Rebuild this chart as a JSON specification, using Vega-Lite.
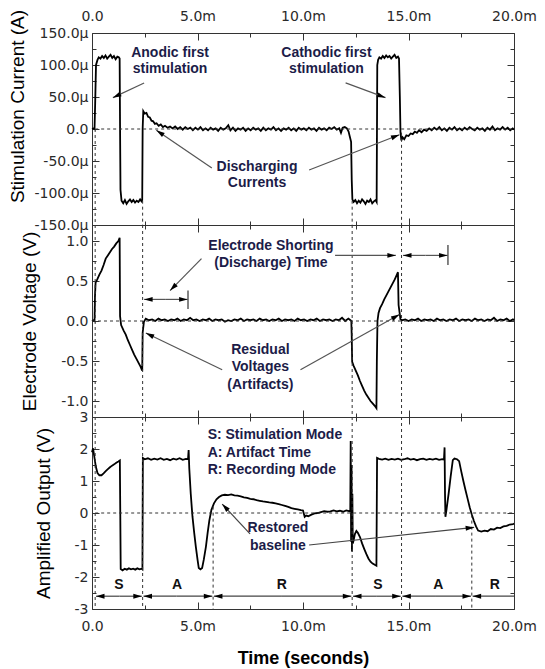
{
  "$schema": "https://vega.github.io/schema/vega-lite/v6.json",
  "background": "white",
  "padding": {"left": 7, "top": 5, "right": 5, "bottom": 5},
  "bounds": "flush",
  "spacing": 0,
  "config": {
    "view": {"stroke": "#333", "strokeWidth": 1},
    "axis": {"domain": false, "grid": false, "tickColor": "#333", "tickWidth": 1, "labelFont": "DejaVu Sans", "labelFontSize": 14, "labelColor": "#2a2a2a", "labelFlush": false, "labelOverlap": false, "titleFont": "Liberation Sans", "titleFontSize": 19, "titleFontWeight": "normal", "titleColor": "#000"},
    "text": {"font": "Liberation Sans", "fontWeight": "bold", "fontSize": 14, "color": "#1c1c48"}
  },
  "datasets": {
    "cur": [
      {"t":0.00,"i":0},{"t":0.08,"i":1},{"t":0.12,"i":0},{"t":0.15,"i":40},{"t":0.19,"i":100},{"t":0.26,"i":108},{"t":0.32,"i":112},{"t":0.40,"i":110},{"t":0.48,"i":114},{"t":0.56,"i":111},{"t":0.64,"i":115},{"t":0.72,"i":110},{"t":0.80,"i":113},{"t":0.88,"i":116},{"t":0.96,"i":111},{"t":1.04,"i":114},{"t":1.12,"i":109},{"t":1.20,"i":113},{"t":1.27,"i":112},{"t":1.31,"i":110},{"t":1.33,"i":0},{"t":1.35,"i":-95},{"t":1.40,"i":-112},{"t":1.48,"i":-116},{"t":1.56,"i":-111},{"t":1.64,"i":-117},{"t":1.72,"i":-113},{"t":1.80,"i":-110},{"t":1.88,"i":-114},{"t":1.96,"i":-111},{"t":2.04,"i":-115},{"t":2.12,"i":-112},{"t":2.20,"i":-114},{"t":2.28,"i":-110},{"t":2.35,"i":-113},{"t":2.38,"i":-111},{"t":2.40,"i":0},{"t":2.43,"i":28},{"t":2.50,"i":24},{"t":2.58,"i":25},{"t":2.66,"i":19},{"t":2.74,"i":18},{"t":2.82,"i":13},{"t":2.90,"i":12},{"t":2.98,"i":8},{"t":3.06,"i":9},{"t":3.16,"i":5},{"t":3.26,"i":7},{"t":3.36,"i":3},{"t":3.46,"i":5},{"t":3.58,"i":2},{"t":3.70,"i":4},{"t":3.82,"i":1},{"t":3.94,"i":4},{"t":4.06,"i":0},{"t":4.18,"i":3},{"t":4.30,"i":-1},{"t":4.42,"i":3},{"t":4.54,"i":0},{"t":4.66,"i":2},{"t":4.78,"i":-2},{"t":4.90,"i":2},{"t":5.02,"i":-1},{"t":5.14,"i":3},{"t":5.26,"i":-2},{"t":5.38,"i":1},{"t":5.50,"i":-2},{"t":5.62,"i":2},{"t":5.74,"i":-1},{"t":5.86,"i":1},{"t":5.98,"i":-3},{"t":6.10,"i":2},{"t":6.22,"i":-1},{"t":6.34,"i":1},{"t":6.46,"i":6},{"t":6.56,"i":-2},{"t":6.68,"i":2},{"t":6.80,"i":-3},{"t":6.92,"i":1},{"t":7.04,"i":-1},{"t":7.16,"i":2},{"t":7.28,"i":-3},{"t":7.40,"i":1},{"t":7.52,"i":-2},{"t":7.64,"i":2},{"t":7.76,"i":-1},{"t":7.88,"i":1},{"t":8.00,"i":-3},{"t":8.12,"i":2},{"t":8.24,"i":-2},{"t":8.36,"i":1},{"t":8.48,"i":-1},{"t":8.60,"i":3},{"t":8.72,"i":-2},{"t":8.84,"i":1},{"t":8.96,"i":-3},{"t":9.08,"i":1},{"t":9.20,"i":-1},{"t":9.32,"i":2},{"t":9.44,"i":-2},{"t":9.56,"i":1},{"t":9.68,"i":-3},{"t":9.80,"i":2},{"t":9.92,"i":-1},{"t":10.04,"i":1},{"t":10.16,"i":-2},{"t":10.28,"i":2},{"t":10.40,"i":-1},{"t":10.52,"i":1},{"t":10.64,"i":-3},{"t":10.76,"i":2},{"t":10.88,"i":-1},{"t":11.00,"i":1},{"t":11.12,"i":-2},{"t":11.24,"i":2},{"t":11.36,"i":0},{"t":11.48,"i":3},{"t":11.60,"i":-1},{"t":11.72,"i":1},{"t":11.80,"i":-6},{"t":11.88,"i":2},{"t":11.98,"i":3},{"t":12.08,"i":1},{"t":12.16,"i":-4},{"t":12.22,"i":-12},{"t":12.28,"i":-20},{"t":12.31,"i":-80},{"t":12.34,"i":-110},{"t":12.40,"i":-114},{"t":12.48,"i":-111},{"t":12.56,"i":-116},{"t":12.64,"i":-112},{"t":12.72,"i":-115},{"t":12.80,"i":-110},{"t":12.88,"i":-113},{"t":12.96,"i":-117},{"t":13.04,"i":-112},{"t":13.12,"i":-114},{"t":13.20,"i":-110},{"t":13.28,"i":-116},{"t":13.36,"i":-113},{"t":13.44,"i":-111},{"t":13.49,"i":-114},{"t":13.52,"i":100},{"t":13.56,"i":108},{"t":13.62,"i":112},{"t":13.70,"i":110},{"t":13.78,"i":114},{"t":13.86,"i":111},{"t":13.94,"i":115},{"t":14.02,"i":112},{"t":14.10,"i":114},{"t":14.18,"i":110},{"t":14.26,"i":113},{"t":14.34,"i":116},{"t":14.42,"i":111},{"t":14.50,"i":113},{"t":14.55,"i":110},{"t":14.59,"i":50},{"t":14.62,"i":-5},{"t":14.66,"i":-18},{"t":14.72,"i":-13},{"t":14.80,"i":-16},{"t":14.90,"i":-10},{"t":15.00,"i":-11},{"t":15.10,"i":-7},{"t":15.20,"i":-8},{"t":15.30,"i":-4},{"t":15.40,"i":-6},{"t":15.50,"i":-2},{"t":15.62,"i":-5},{"t":15.74,"i":-1},{"t":15.86,"i":-3},{"t":15.98,"i":1},{"t":16.10,"i":-2},{"t":16.22,"i":2},{"t":16.34,"i":-1},{"t":16.46,"i":3},{"t":16.58,"i":-2},{"t":16.70,"i":1},{"t":16.82,"i":-3},{"t":16.94,"i":2},{"t":17.06,"i":-1},{"t":17.18,"i":3},{"t":17.30,"i":-2},{"t":17.42,"i":1},{"t":17.54,"i":-2},{"t":17.66,"i":2},{"t":17.78,"i":-1},{"t":17.90,"i":3},{"t":18.02,"i":0},{"t":18.14,"i":-2},{"t":18.26,"i":2},{"t":18.38,"i":-1},{"t":18.50,"i":1},{"t":18.62,"i":-3},{"t":18.74,"i":2},{"t":18.86,"i":-1},{"t":18.98,"i":4},{"t":19.10,"i":-2},{"t":19.22,"i":1},{"t":19.34,"i":-1},{"t":19.46,"i":3},{"t":19.58,"i":-1},{"t":19.70,"i":2},{"t":19.82,"i":-2},{"t":19.94,"i":1},{"t":20.00,"i":-1}
    ],
    "volt": [
      {"t":0.00,"v":0.0},{"t":0.07,"v":0.01},{"t":0.12,"v":0.0},{"t":0.14,"v":0.3},{"t":0.17,"v":0.48},{"t":0.25,"v":0.52},{"t":0.35,"v":0.58},{"t":0.45,"v":0.63},{"t":0.55,"v":0.70},{"t":0.65,"v":0.78},{"t":0.75,"v":0.82},{"t":0.85,"v":0.86},{"t":0.95,"v":0.90},{"t":1.05,"v":0.93},{"t":1.15,"v":0.97},{"t":1.25,"v":1.00},{"t":1.31,"v":1.04},{"t":1.33,"v":0.06},{"t":1.38,"v":-0.05},{"t":1.50,"v":-0.12},{"t":1.60,"v":-0.17},{"t":1.70,"v":-0.24},{"t":1.80,"v":-0.30},{"t":1.90,"v":-0.36},{"t":2.00,"v":-0.42},{"t":2.10,"v":-0.47},{"t":2.20,"v":-0.52},{"t":2.30,"v":-0.57},{"t":2.38,"v":-0.62},{"t":2.40,"v":-0.15},{"t":2.43,"v":-0.08},{"t":2.46,"v":-0.01},
      {"t":2.55,"v":0.03},{"t":2.70,"v":0.01},{"t":2.85,"v":0.02},{"t":3.00,"v":0.0},{"t":3.15,"v":0.03},{"t":3.30,"v":0.01},{"t":3.45,"v":0.02},{"t":3.60,"v":0.0},{"t":3.75,"v":0.02},{"t":3.90,"v":0.01},{"t":4.05,"v":0.03},{"t":4.20,"v":0.0},{"t":4.35,"v":0.02},{"t":4.50,"v":0.01},{"t":4.65,"v":0.04},{"t":4.80,"v":0.01},{"t":4.95,"v":0.02},{"t":5.10,"v":0.0},{"t":5.25,"v":0.02},{"t":5.40,"v":0.01},{"t":5.55,"v":0.03},{"t":5.70,"v":0.0},{"t":5.85,"v":0.02},{"t":6.00,"v":0.01},{"t":6.15,"v":0.02},{"t":6.30,"v":-0.01},{"t":6.45,"v":0.01},{"t":6.60,"v":0.0},{"t":6.75,"v":0.02},{"t":6.90,"v":0.01},{"t":7.05,"v":0.03},{"t":7.20,"v":0.0},{"t":7.35,"v":0.02},{"t":7.50,"v":0.01},{"t":7.65,"v":0.02},{"t":7.80,"v":0.0},{"t":7.95,"v":0.03},{"t":8.10,"v":0.01},{"t":8.25,"v":0.02},{"t":8.40,"v":0.0},{"t":8.55,"v":0.02},{"t":8.70,"v":0.01},{"t":8.85,"v":0.03},{"t":9.00,"v":0.0},{"t":9.15,"v":0.02},{"t":9.30,"v":0.01},{"t":9.45,"v":0.02},{"t":9.60,"v":0.0},{"t":9.75,"v":0.03},{"t":9.90,"v":0.01},{"t":10.05,"v":0.02},{"t":10.20,"v":0.0},{"t":10.35,"v":0.02},{"t":10.50,"v":0.01},{"t":10.65,"v":0.03},{"t":10.80,"v":0.0},{"t":10.95,"v":0.02},{"t":11.10,"v":0.01},{"t":11.25,"v":0.02},{"t":11.40,"v":0.0},{"t":11.55,"v":0.02},{"t":11.70,"v":0.01},{"t":11.85,"v":0.04},{"t":12.00,"v":0.0},{"t":12.15,"v":0.03},{"t":12.25,"v":0.01},{"t":12.29,"v":0.0},
      {"t":12.31,"v":-0.2},{"t":12.33,"v":-0.51},{"t":12.40,"v":-0.56},{"t":12.50,"v":-0.62},{"t":12.60,"v":-0.68},{"t":12.70,"v":-0.75},{"t":12.80,"v":-0.81},{"t":12.90,"v":-0.87},{"t":13.00,"v":-0.92},{"t":13.10,"v":-0.96},{"t":13.20,"v":-1.0},{"t":13.30,"v":-1.03},{"t":13.40,"v":-1.06},{"t":13.48,"v":-1.09},{"t":13.50,"v":-0.5},{"t":13.53,"v":0.0},{"t":13.58,"v":0.1},{"t":13.65,"v":0.16},{"t":13.75,"v":0.21},{"t":13.85,"v":0.27},{"t":13.95,"v":0.32},{"t":14.05,"v":0.37},{"t":14.15,"v":0.42},{"t":14.25,"v":0.47},{"t":14.35,"v":0.52},{"t":14.45,"v":0.58},{"t":14.50,"v":0.61},{"t":14.53,"v":0.2},{"t":14.57,"v":0.12},{"t":14.62,"v":0.02},{"t":14.70,"v":0.01},
      {"t":14.85,"v":0.02},{"t":15.00,"v":0.0},{"t":15.15,"v":0.02},{"t":15.30,"v":0.01},{"t":15.45,"v":0.03},{"t":15.60,"v":0.0},{"t":15.75,"v":0.02},{"t":15.90,"v":0.01},{"t":16.05,"v":0.02},{"t":16.20,"v":0.0},{"t":16.35,"v":0.03},{"t":16.50,"v":0.01},{"t":16.65,"v":0.02},{"t":16.80,"v":0.0},{"t":16.95,"v":0.02},{"t":17.10,"v":0.01},{"t":17.25,"v":0.03},{"t":17.40,"v":0.0},{"t":17.55,"v":0.02},{"t":17.70,"v":0.01},{"t":17.85,"v":0.02},{"t":18.00,"v":0.0},{"t":18.15,"v":0.03},{"t":18.30,"v":0.01},{"t":18.45,"v":0.02},{"t":18.60,"v":0.0},{"t":18.75,"v":0.02},{"t":18.90,"v":0.01},{"t":19.05,"v":0.04},{"t":19.20,"v":0.0},{"t":19.35,"v":0.02},{"t":19.50,"v":0.01},{"t":19.65,"v":0.03},{"t":19.80,"v":0.0},{"t":19.95,"v":0.02},{"t":20.00,"v":0.01}
    ],
    "amp": [
      {"t":0.00,"v":1.90},{"t":0.05,"v":2.02},{"t":0.10,"v":1.80},{"t":0.18,"v":1.45},{"t":0.26,"v":1.25},{"t":0.35,"v":1.18},{"t":0.45,"v":1.18},{"t":0.55,"v":1.24},{"t":0.65,"v":1.31},{"t":0.75,"v":1.37},{"t":0.85,"v":1.43},{"t":0.95,"v":1.48},{"t":1.05,"v":1.52},{"t":1.15,"v":1.57},{"t":1.25,"v":1.61},{"t":1.32,"v":1.64},{"t":1.34,"v":0.0},{"t":1.36,"v":-1.75},{"t":1.45,"v":-1.79},{"t":1.55,"v":-1.74},{"t":1.65,"v":-1.77},{"t":1.75,"v":-1.73},{"t":1.85,"v":-1.76},{"t":1.95,"v":-1.74},{"t":2.05,"v":-1.77},{"t":2.15,"v":-1.73},{"t":2.25,"v":-1.76},{"t":2.35,"v":-1.74},{"t":2.39,"v":-1.76},
      {"t":2.41,"v":1.72},{"t":2.50,"v":1.68},{"t":2.65,"v":1.71},{"t":2.80,"v":1.66},{"t":2.95,"v":1.70},{"t":3.10,"v":1.67},{"t":3.25,"v":1.71},{"t":3.40,"v":1.66},{"t":3.55,"v":1.69},{"t":3.70,"v":1.65},{"t":3.85,"v":1.70},{"t":4.00,"v":1.67},{"t":4.15,"v":1.71},{"t":4.30,"v":1.66},{"t":4.45,"v":1.69},{"t":4.55,"v":1.68},{"t":4.58,"v":1.97},{"t":4.61,"v":1.40},{"t":4.68,"v":0.60},{"t":4.76,"v":-0.10},{"t":4.84,"v":-0.60},{"t":4.92,"v":-1.05},{"t":5.00,"v":-1.45},{"t":5.06,"v":-1.72},{"t":5.14,"v":-1.76},{"t":5.22,"v":-1.72},{"t":5.30,"v":-1.45},{"t":5.40,"v":-1.05},{"t":5.48,"v":-0.62},{"t":5.56,"v":-0.24},{"t":5.66,"v":0.10},{"t":5.78,"v":0.30},{"t":5.90,"v":0.43},{"t":6.02,"v":0.50},{"t":6.15,"v":0.55},{"t":6.30,"v":0.57},{"t":6.45,"v":0.56},{"t":6.60,"v":0.58},{"t":6.75,"v":0.55},{"t":6.90,"v":0.54},{"t":7.05,"v":0.52},{"t":7.20,"v":0.49},{"t":7.35,"v":0.47},{"t":7.50,"v":0.44},{"t":7.65,"v":0.43},{"t":7.80,"v":0.40},{"t":7.95,"v":0.38},{"t":8.10,"v":0.36},{"t":8.25,"v":0.35},{"t":8.40,"v":0.33},{"t":8.55,"v":0.32},{"t":8.70,"v":0.30},{"t":8.85,"v":0.28},{"t":9.00,"v":0.25},{"t":9.15,"v":0.22},{"t":9.30,"v":0.19},{"t":9.45,"v":0.15},{"t":9.60,"v":0.13},{"t":9.75,"v":0.11},{"t":9.90,"v":0.09},{"t":10.00,"v":0.08},{"t":10.08,"v":-0.12},{"t":10.15,"v":-0.08},{"t":10.25,"v":-0.10},{"t":10.40,"v":-0.05},{"t":10.55,"v":-0.01},{"t":10.70,"v":0.0},{"t":10.85,"v":0.03},{"t":11.00,"v":0.06},{"t":11.15,"v":0.04},{"t":11.30,"v":0.05},{"t":11.45,"v":0.08},{"t":11.60,"v":0.05},{"t":11.75,"v":0.07},{"t":11.90,"v":0.04},{"t":12.05,"v":0.08},{"t":12.18,"v":0.06},{"t":12.24,"v":0.05},
      {"t":12.26,"v":2.25},{"t":12.28,"v":-0.9},{"t":12.30,"v":1.5},{"t":12.32,"v":-1.2},{"t":12.34,"v":0.6},{"t":12.36,"v":-0.95},{"t":12.40,"v":-0.85},{"t":12.46,"v":-0.66},{"t":12.53,"v":-0.56},{"t":12.60,"v":-0.62},{"t":12.70,"v":-0.75},{"t":12.80,"v":-0.95},{"t":12.90,"v":-1.12},{"t":13.00,"v":-1.28},{"t":13.10,"v":-1.42},{"t":13.20,"v":-1.52},{"t":13.30,"v":-1.58},{"t":13.40,"v":-1.62},{"t":13.48,"v":-1.65},
      {"t":13.51,"v":1.72},{"t":13.60,"v":1.69},{"t":13.75,"v":1.67},{"t":13.90,"v":1.70},{"t":14.05,"v":1.66},{"t":14.20,"v":1.69},{"t":14.35,"v":1.67},{"t":14.50,"v":1.70},{"t":14.65,"v":1.66},{"t":14.80,"v":1.68},{"t":14.95,"v":1.71},{"t":15.10,"v":1.67},{"t":15.25,"v":1.69},{"t":15.40,"v":1.65},{"t":15.55,"v":1.68},{"t":15.70,"v":1.70},{"t":15.85,"v":1.66},{"t":16.00,"v":1.69},{"t":16.15,"v":1.67},{"t":16.30,"v":1.70},{"t":16.45,"v":1.66},{"t":16.60,"v":1.68},{"t":16.68,"v":1.67},{"t":16.71,"v":2.05},{"t":16.73,"v":0.6},{"t":16.75,"v":-0.12},{"t":16.80,"v":0.1},{"t":16.90,"v":0.6},{"t":17.00,"v":1.15},{"t":17.10,"v":1.65},{"t":17.18,"v":1.70},{"t":17.30,"v":1.68},{"t":17.40,"v":1.62},{"t":17.50,"v":1.30},{"t":17.60,"v":1.00},{"t":17.70,"v":0.72},{"t":17.80,"v":0.45},{"t":17.90,"v":0.18},{"t":18.00,"v":-0.05},{"t":18.10,"v":-0.25},{"t":18.20,"v":-0.42},{"t":18.30,"v":-0.55},{"t":18.45,"v":-0.58},{"t":18.60,"v":-0.55},{"t":18.75,"v":-0.57},{"t":18.90,"v":-0.50},{"t":19.05,"v":-0.52},{"t":19.20,"v":-0.46},{"t":19.35,"v":-0.47},{"t":19.50,"v":-0.42},{"t":19.65,"v":-0.40},{"t":19.80,"v":-0.36},{"t":19.95,"v":-0.35},{"t":20.00,"v":-0.33}
    ],
    "dash1": [
      {"x":0.15,"x2":20,"y":0,"y2":0},{"x":0.15,"x2":0.15,"y":0,"y2":-150},{"x":2.4,"x2":2.4,"y":-112,"y2":-150},{"x":12.33,"x2":12.33,"y":-112,"y2":-150},{"x":14.67,"x2":14.67,"y":-6,"y2":-150}
    ],
    "dash2": [
      {"x":0,"x2":20,"y":0,"y2":0},{"x":0.15,"x2":0.15,"y":1.2,"y2":-1.2},{"x":2.4,"x2":2.4,"y":1.2,"y2":-1.2},{"x":12.33,"x2":12.33,"y":1.2,"y2":-1.2},{"x":14.67,"x2":14.67,"y":1.2,"y2":-1.2}
    ],
    "dash3": [
      {"x":0.15,"x2":20,"y":0,"y2":0},{"x":0.15,"x2":0.15,"y":3,"y2":-3},{"x":2.4,"x2":2.4,"y":3,"y2":-3},{"x":5.74,"x2":5.74,"y":0.2,"y2":-3},{"x":12.33,"x2":12.33,"y":3,"y2":-3},{"x":14.67,"x2":14.67,"y":3,"y2":-3},{"x":18.0,"x2":18.0,"y":-0.05,"y2":-3}
    ],
    "arr1": [
      {"x":2.47,"y":72,"x2":0.99,"y2":49},{"x":12.02,"y":72,"x2":13.91,"y2":49},{"x":5.68,"y":-61,"x2":3.05,"y2":-2},{"x":10.29,"y":-64,"x2":14.57,"y2":-9}
    ],
    "arr2": [
      {"x":5.19,"y":0.78,"x2":3.70,"y2":0.38},{"x":11.52,"y":0.82,"x2":14.40,"y2":0.82},{"x":6.17,"y":-0.61,"x2":2.55,"y2":-0.15},{"x":9.88,"y":-0.61,"x2":14.57,"y2":0.08},
      {"x":3.5,"y":0.27,"x2":2.47,"y2":0.27},{"x":3.5,"y":0.27,"x2":4.53,"y2":0.27},{"x":15.8,"y":0.82,"x2":14.74,"y2":0.82},{"x":15.8,"y":0.82,"x2":16.85,"y2":0.82}
    ],
    "bar2": [
      {"x":4.55,"y":0.38,"y2":0.15},{"x":16.87,"y":0.95,"y2":0.70}
    ],
    "arr3": [
      {"x":7.49,"y":-0.65,"x2":6.17,"y2":0.28},{"x":10.29,"y":-1.0,"x2":18.11,"y2":-0.45},
      {"x":1.3,"y":-2.6,"x2":0.19,"y2":-2.6},{"x":1.3,"y":-2.6,"x2":2.36,"y2":-2.6},
      {"x":4.0,"y":-2.6,"x2":2.44,"y2":-2.6},{"x":4.0,"y":-2.6,"x2":5.70,"y2":-2.6},
      {"x":9.0,"y":-2.6,"x2":5.78,"y2":-2.6},{"x":9.0,"y":-2.6,"x2":12.29,"y2":-2.6},
      {"x":13.5,"y":-2.6,"x2":12.37,"y2":-2.6},{"x":13.5,"y":-2.6,"x2":14.63,"y2":-2.6},
      {"x":16.3,"y":-2.6,"x2":14.71,"y2":-2.6},{"x":16.3,"y":-2.6,"x2":17.96,"y2":-2.6},
      {"x":20.0,"y":-2.6,"x2":18.04,"y2":-2.6}
    ],
    "txt1": [
      {"x":3.7,"y":119,"s":"Anodic first"},{"x":3.7,"y":93,"s":"stimulation"},{"x":11.11,"y":119,"s":"Cathodic first"},{"x":11.11,"y":93,"s":"stimulation"},{"x":7.82,"y":-59,"s":"Discharging"},{"x":7.82,"y":-85,"s":"Currents"}
    ],
    "txt2": [
      {"x":8.48,"y":0.94,"s":"Electrode Shorting"},{"x":8.48,"y":0.73,"s":"(Discharge) Time"},{"x":7.98,"y":-0.36,"s":"Residual"},{"x":7.98,"y":-0.58,"s":"Voltages"},{"x":7.98,"y":-0.80,"s":"(Artifacts)"}
    ],
    "txt3l": [
      {"x":5.48,"y":2.43,"s":"S: Stimulation Mode"},{"x":5.48,"y":1.89,"s":"A: Artifact Time"},{"x":5.48,"y":1.34,"s":"R: Recording Mode"}
    ],
    "txt3c": [
      {"x":8.81,"y":-0.48,"s":"Restored"},{"x":8.81,"y":-1.02,"s":"baseline"}
    ],
    "mode": [
      {"x":1.28,"y":-2.24,"s":"S"},{"x":4.03,"y":-2.24,"s":"A"},{"x":9.0,"y":-2.24,"s":"R"},{"x":13.55,"y":-2.24,"s":"S"},{"x":16.41,"y":-2.24,"s":"A"},{"x":19.09,"y":-2.24,"s":"R"}
    ]
  },
  "vconcat": [
    {
      "width": 422, "height": 192,
      "layer": [
        {"data": {"name": "cur"}, "mark": {"type": "line", "color": "#000", "strokeWidth": 1.8},
         "encoding": {
           "x": {"field": "t", "type": "quantitative", "scale": {"domain": [0, 20], "nice": false, "zero": false},
                 "axis": {"orient": "bottom", "values": [0,2.5,5,7.5,10,12.5,15,17.5,20], "labels": false, "title": null, "tickSize": {"condition": {"test": "datum.value % 5 == 0", "value": -7}, "value": -4}}},
           "y": {"field": "i", "type": "quantitative", "scale": {"domain": [-150, 150], "nice": false, "zero": false},
                 "axis": {"orient": "left", "values": [-150,-125,-100,-75,-50,-25,0,25,50,75,100,125,150], "labelExpr": "datum.value % 50 == 0 ? (datum.value == 0 ? '0.0' : datum.value + '.0µ') : ''", "labelPadding": 11, "title": "Stimulation Current (A)", "titlePadding": 35, "titleY": 73, "minExtent": 30, "maxExtent": 30, "tickSize": {"condition": {"test": "datum.value % 50 == 0", "value": -7}, "value": -4}}}
         }},
        {"data": {"name": "dash1"}, "mark": {"type": "rule", "color": "#333", "strokeWidth": 1, "strokeDash": [3, 3]},
         "encoding": {
           "x": {"field": "x", "type": "quantitative", "axis": {"orient": "top", "values": [0,2.5,5,7.5,10,12.5,15,17.5,20], "labelExpr": "datum.value % 5 == 0 ? (datum.value == 0 ? '0.0' : datum.value + '.0m') : ''", "labelPadding": 17, "title": null, "tickSize": {"condition": {"test": "datum.value % 5 == 0", "value": -7}, "value": -4}}},
           "x2": {"field": "x2"},
           "y": {"field": "y", "type": "quantitative", "axis": {"orient": "right", "values": [-150,-125,-100,-75,-50,-25,0,25,50,75,100,125,150], "labels": false, "title": null, "tickSize": {"condition": {"test": "datum.value % 50 == 0", "value": -7}, "value": -4}}},
           "y2": {"field": "y2"}
         }},
        {"data": {"name": "arr1"}, "mark": {"type": "rule", "color": "#555", "strokeWidth": 1.2},
         "encoding": {"x": {"field": "x", "type": "quantitative", "axis": null}, "x2": {"field": "x2"}, "y": {"field": "y", "type": "quantitative", "axis": null}, "y2": {"field": "y2"}}},
        {"data": {"name": "arr1"}, "transform": [{"calculate": "atan2((datum.x2-datum.x)*21.1, (datum.y2-datum.y)*0.64)*180/PI", "as": "ang"}],
         "mark": {"type": "point", "shape": "M0,0L0.35,1.2L-0.35,1.2Z", "filled": true, "color": "#000", "opacity": 1, "size": 200},
         "encoding": {"x": {"field": "x2", "type": "quantitative", "axis": null}, "y": {"field": "y2", "type": "quantitative", "axis": null}, "angle": {"field": "ang", "type": "quantitative", "scale": null}}},
        {"data": {"name": "txt1"}, "mark": {"type": "text", "align": "center", "baseline": "middle"},
         "encoding": {"x": {"field": "x", "type": "quantitative", "axis": null}, "y": {"field": "y", "type": "quantitative", "axis": null}, "text": {"field": "s"}}}
      ],
      "resolve": {"axis": {"x": "independent", "y": "independent"}}
    },
    {
      "width": 422, "height": 192,
      "layer": [
        {"data": {"name": "volt"}, "mark": {"type": "line", "color": "#000", "strokeWidth": 1.8},
         "encoding": {
           "x": {"field": "t", "type": "quantitative", "scale": {"domain": [0, 20], "nice": false, "zero": false},
                 "axis": {"orient": "bottom", "values": [0,2.5,5,7.5,10,12.5,15,17.5,20], "labels": false, "title": null, "tickSize": {"condition": {"test": "datum.value % 5 == 0", "value": -7}, "value": -4}}},
           "y": {"field": "v", "type": "quantitative", "scale": {"domain": [-1.2, 1.2], "nice": false, "zero": false},
                 "axis": {"orient": "left", "values": [-1,-0.75,-0.5,-0.25,0,0.25,0.5,0.75,1], "labelExpr": "datum.value == 0 ? '0.0' : (abs(datum.value) % 1 == 0 ? datum.value + '.0' : (abs(datum.value) % 0.5 == 0 ? '' + datum.value : ''))", "labelPadding": 11, "title": "Electrode Voltage (V)", "titlePadding": 23, "minExtent": 30, "maxExtent": 30, "tickSize": {"condition": {"test": "abs(datum.value) % 0.5 == 0", "value": -7}, "value": -4}}}
         }},
        {"data": {"name": "dash2"}, "mark": {"type": "rule", "color": "#333", "strokeWidth": 1, "strokeDash": [3, 3]},
         "encoding": {
           "x": {"field": "x", "type": "quantitative", "axis": {"orient": "top", "values": [0,2.5,5,7.5,10,12.5,15,17.5,20], "labels": false, "title": null, "tickSize": {"condition": {"test": "datum.value % 5 == 0", "value": -7}, "value": -4}}},
           "x2": {"field": "x2"},
           "y": {"field": "y", "type": "quantitative", "axis": {"orient": "right", "values": [-1,-0.75,-0.5,-0.25,0,0.25,0.5,0.75,1], "labels": false, "title": null, "tickSize": {"condition": {"test": "abs(datum.value) % 0.5 == 0", "value": -7}, "value": -4}}},
           "y2": {"field": "y2"}
         }},
        {"data": {"name": "arr2"}, "mark": {"type": "rule", "color": "#555", "strokeWidth": 1.2},
         "encoding": {"x": {"field": "x", "type": "quantitative", "axis": null}, "x2": {"field": "x2"}, "y": {"field": "y", "type": "quantitative", "axis": null}, "y2": {"field": "y2"}}},
        {"data": {"name": "bar2"}, "mark": {"type": "rule", "color": "#333", "strokeWidth": 1.2},
         "encoding": {"x": {"field": "x", "type": "quantitative", "axis": null}, "y": {"field": "y", "type": "quantitative", "axis": null}, "y2": {"field": "y2"}}},
        {"data": {"name": "arr2"}, "transform": [{"calculate": "atan2((datum.x2-datum.x)*21.1, (datum.y2-datum.y)*80)*180/PI", "as": "ang"}],
         "mark": {"type": "point", "shape": "M0,0L0.35,1.2L-0.35,1.2Z", "filled": true, "color": "#000", "opacity": 1, "size": 200},
         "encoding": {"x": {"field": "x2", "type": "quantitative", "axis": null}, "y": {"field": "y2", "type": "quantitative", "axis": null}, "angle": {"field": "ang", "type": "quantitative", "scale": null}}},
        {"data": {"name": "txt2"}, "mark": {"type": "text", "align": "center", "baseline": "middle"},
         "encoding": {"x": {"field": "x", "type": "quantitative", "axis": null}, "y": {"field": "y", "type": "quantitative", "axis": null}, "text": {"field": "s"}}}
      ],
      "resolve": {"axis": {"x": "independent", "y": "independent"}}
    },
    {
      "width": 422, "height": 192,
      "layer": [
        {"data": {"name": "amp"}, "mark": {"type": "line", "color": "#000", "strokeWidth": 1.8},
         "encoding": {
           "x": {"field": "t", "type": "quantitative", "scale": {"domain": [0, 20], "nice": false, "zero": false},
                 "axis": {"orient": "bottom", "values": [0,2.5,5,7.5,10,12.5,15,17.5,20], "labelExpr": "datum.value % 5 == 0 ? (datum.value == 0 ? '0.0' : datum.value + '.0m') : ''", "labelPadding": 17, "title": "Time (seconds)", "titleFontWeight": "bold", "titleFontSize": 18, "titlePadding": 15, "minExtent": 25, "maxExtent": 25, "tickSize": {"condition": {"test": "datum.value % 5 == 0", "value": -7}, "value": -4}}},
           "y": {"field": "v", "type": "quantitative", "scale": {"domain": [-3, 3], "nice": false, "zero": false},
                 "axis": {"orient": "left", "values": [-3,-2.5,-2,-1.5,-1,-0.5,0,0.5,1,1.5,2,2.5,3], "labelExpr": "datum.value % 1 == 0 ? '' + datum.value : ''", "labelPadding": 11, "title": "Amplified Output (V)", "titlePadding": 9, "minExtent": 30, "maxExtent": 30, "tickSize": {"condition": {"test": "datum.value % 1 == 0", "value": -7}, "value": -4}}}
         }},
        {"data": {"name": "dash3"}, "mark": {"type": "rule", "color": "#333", "strokeWidth": 1, "strokeDash": [3, 3]},
         "encoding": {
           "x": {"field": "x", "type": "quantitative", "axis": {"orient": "top", "values": [0,2.5,5,7.5,10,12.5,15,17.5,20], "labels": false, "title": null, "tickSize": {"condition": {"test": "datum.value % 5 == 0", "value": -7}, "value": -4}}},
           "x2": {"field": "x2"},
           "y": {"field": "y", "type": "quantitative", "axis": {"orient": "right", "values": [-3,-2.5,-2,-1.5,-1,-0.5,0,0.5,1,1.5,2,2.5,3], "labels": false, "title": null, "tickSize": {"condition": {"test": "datum.value % 1 == 0", "value": -7}, "value": -4}}},
           "y2": {"field": "y2"}
         }},
        {"data": {"name": "arr3"}, "mark": {"type": "rule", "color": "#444", "strokeWidth": 1.2},
         "encoding": {"x": {"field": "x", "type": "quantitative", "axis": null}, "x2": {"field": "x2"}, "y": {"field": "y", "type": "quantitative", "axis": null}, "y2": {"field": "y2"}}},
        {"data": {"name": "arr3"}, "transform": [{"calculate": "atan2((datum.x2-datum.x)*21.1, (datum.y2-datum.y)*32)*180/PI", "as": "ang"}],
         "mark": {"type": "point", "shape": "M0,0L0.35,1.2L-0.35,1.2Z", "filled": true, "color": "#000", "opacity": 1, "size": 200},
         "encoding": {"x": {"field": "x2", "type": "quantitative", "axis": null}, "y": {"field": "y2", "type": "quantitative", "axis": null}, "angle": {"field": "ang", "type": "quantitative", "scale": null}}},
        {"data": {"name": "txt3l"}, "mark": {"type": "text", "align": "left", "baseline": "middle"},
         "encoding": {"x": {"field": "x", "type": "quantitative", "axis": null}, "y": {"field": "y", "type": "quantitative", "axis": null}, "text": {"field": "s"}}},
        {"data": {"name": "txt3c"}, "mark": {"type": "text", "align": "center", "baseline": "middle"},
         "encoding": {"x": {"field": "x", "type": "quantitative", "axis": null}, "y": {"field": "y", "type": "quantitative", "axis": null}, "text": {"field": "s"}}},
        {"data": {"name": "mode"}, "mark": {"type": "text", "align": "center", "baseline": "middle", "color": "#111"},
         "encoding": {"x": {"field": "x", "type": "quantitative", "axis": null}, "y": {"field": "y", "type": "quantitative", "axis": null}, "text": {"field": "s"}}}
      ],
      "resolve": {"axis": {"x": "independent", "y": "independent"}}
    }
  ]
}
